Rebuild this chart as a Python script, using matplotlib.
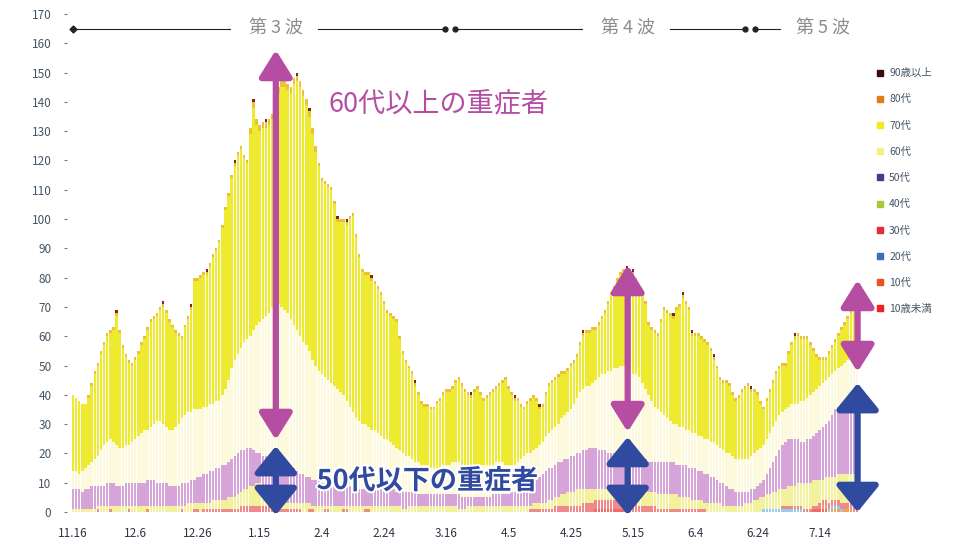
import numpy as np
import matplotlib.pyplot as plt
import matplotlib.patheffects as pe
from matplotlib.lines import Line2D

plt.rcParams['font.family'] = ['Noto Sans CJK JP', 'DejaVu Sans']

# daily number of severe patients by age group, 11.16 .. 7.27 (253 days)
s90 = [0,0,0,0,0,0,0,0,0,0, 0,0,0,0,1,0,0,0,0,0, 0,0,0,0,0,0,0,0,0,1, 0,0,0,0,0,0,0,0,1,0,
       0,0,0,1,0,0,0,0,0,0, 0,0,1,0,0,0,0,0,1,0, 0,0,1,0,0,0,0,1,0,0, 0,0,1,0,0,0,1,0,0,0,
       0,0,0,0,0,1,0,0,1,0, 0,0,0,0,0,0,1,0,0,0, 0,0,0,0,0,0,0,0,0,0, 1,0,0,0,0,0,0,0,0,0,
       0,0,0,0,0,0,0,0,1,0, 0,0,0,0,0,0,0,0,0,0, 0,0,1,0,0,0,0,0,0,0, 1,0,0,0,0,0,0,0,0,0,
       0,0,0,0,1,0,0,0,0,0, 0,0,0,0,0,0,0,0,1,0, 1,0,0,0,0,0,0,0,0,0, 0,0,0,1,0,0,1,0,0,1,
       0,0,0,0,0,0,1,0,0,0, 0,0,0,0,0,0,0,0,1,0, 0,0,0,0,0,0,0,0,0,0, 0,0,1,0,0,0,0,0,0,0,
       0,0,0,0,0,0,0,0,0,0, 0,0,0]
s80 = [0,0,0,0,0,1,1,1,1,1, 1,1,1,1,1,1,1,1,1,1, 1,1,1,1,1,1,1,1,1,1, 1,1,1,1,1,1,1,1,1,1,
       1,1,1,1,1,1,1,1,1,1, 1,1,1,1,1,1,1,2,2,2, 2,2,2,2,2,2,2,2,2,2, 2,2,2,2,2,2,2,2,2,1,
       1,1,1,1,1,1,1,1,1,1, 1,1,1,1,1,1,1,1,1,1, 1,1,1,1,1,1,1,1,1,1, 1,1,1,1,1,1,1,1,1,1,
       1,1,1,1,1,1,1,1,1,1, 1,1,1,1,1,1,1,1,1,1, 1,1,1,1,1,1,1,1,1,1, 1,1,1,1,1,1,1,1,1,1,
       1,1,1,1,1,1,1,1,1,1, 1,1,1,1,1,1,1,1,1,1, 1,1,1,1,1,1,1,1,1,1, 1,1,1,1,1,1,1,1,1,1,
       1,1,1,1,1,1,1,1,1,1, 1,1,1,1,1,1,1,1,1,1, 1,1,1,1,1,1,1,1,1,1, 1,1,1,1,1,1,1,1,1,1,
       1,1,1,1,1,1,1,1,1,1, 1,1,1]
s70 = [26,25,25,23,22,23,26,29,31,33, 34,36,36,38,44,39,34,30,28,26, 27,28,30,31,34,36,36,36,38,40,
       39,37,35,32,30,27,30,32,35,44, 44,45,45,45,47,50,51,54,57,61, 63,65,66,68,68,63,60,69,76,68,
       65,65,64,64,64,67,72,75,76,76, 77,82,85,85,84,82,80,77,73,70, 66,66,66,66,62,57,58,59,60,64,
       67,62,56,52,51,52,51,50,49,48, 46,43,43,43,43,38,34,32,30,29, 26,23,21,20,20,20,20,22,23,24,
       25,25,25,27,28,27,25,24,23,26, 26,24,22,23,24,25,25,26,27,29, 26,24,22,21,18,16,17,18,18,16,
       12,12,14,16,16,16,16,15,14,14, 15,14,14,16,18,18,18,18,17,18, 19,21,23,26,27,30,31,32,33,34,
       34,32,30,30,29,24,24,25,25,31, 36,36,36,36,39,41,44,43,41,33, 33,34,33,33,32,31,28,26,23,23,
       24,23,21,20,21,23,24,25,22,21, 19,15,12,13,14,15,16,16,16,15, 18,20,22,23,21,21,20,17,14,11,
       9,8,7,8,9,10,11,12,13,14, 15,16,16]
s60 = [6,6,5,7,7,8,8,9,10,12, 14,14,15,14,14,13,13,13,13,14, 15,16,17,18,17,18,19,21,21,20,
       19,19,19,20,21,22,23,24,23,24, 23,23,23,23,23,23,23,23,24,26, 28,31,33,34,35,37,37,38,41,44,
       45,47,48,50,52,54,54,53,53,52, 50,49,48,47,45,45,43,41,39,37, 37,36,35,35,34,33,32,31,29,27,
       25,24,23,22,22,21,20,20,19,18, 17,17,16,15,15,14,13,12,12,11, 10,11,10,10,10,9,9,9,9,10,
       10,10,11,11,11,11,11,11,11,10, 11,11,11,11,11,10,11,11,11,10, 10,9,9,10,10,11,11,11,11,11,
       11,11,12,12,13,13,13,15,15,16, 16,18,19,21,21,22,21,22,23,25, 26,26,28,28,29,29,30,31,30,29,
       28,29,28,26,24,23,21,19,18,17, 16,15,14,13,14,13,13,12,13,12, 12,12,12,12,12,12,12,12,12,11,
       11,12,11,11,11,11,11,11,11,12, 12,12,12,12,12,12,12,12,11,11, 11,12,12,12,14,14,14,15,15,15,
       15,15,15,15,14,13,13,13,13,14, 14,14,14]
s50 = [7,7,7,6,7,7,8,8,7,7, 7,8,8,8,7,7,7,8,8,8, 8,8,8,8,9,9,9,8,8,8,
       8,7,7,7,7,8,8,7,8,8, 9,9,10,10,11,10,11,11,12,12, 12,13,14,14,14,13,14,13,12,10,
       10,10,11,12,13,13,13,14,13,13, 13,12,11,10,10,9,9,9,9,9, 8,8,8,7,7,7,7,7,7,7,
       7,6,6,6,6,6,6,6,6,6, 6,6,6,6,5,5,6,6,5,5, 5,4,4,4,4,4,4,4,4,4,
       4,4,4,4,5,4,4,3,3,3, 3,3,3,3,3,4,4,4,4,4, 4,5,5,5,6,6,7,7,7,8,
       9,10,11,11,11,11,12,11,12,11, 12,12,12,12,13,13,14,14,14,13, 13,13,12,12,12,12,11,10,10,10,
       11,10,10,11,11,10,10,10,11,11, 11,11,11,11,10,11,11,11,10,11, 11,10,10,10,10,9,9,8,7,8,
       7,6,6,5,5,5,4,4,5,4, 5,5,6,7,9,10,12,13,15,16, 16,16,16,15,14,14,15,15,15,16,
       17,18,18,19,21,23,23,24,25,25, 26,27,27]
s40 = [1,1,1,1,1,1,1,1,1,2, 2,2,1,2,2,2,2,2,1,2, 2,2,2,2,1,2,2,2,2,2,
       2,2,2,2,2,1,2,3,3,2, 2,3,2,2,2,3,3,3,3,3, 4,4,4,5,5,6,6,7,7,8,
       8,7,6,4,4,3,3,2,2,2, 2,2,2,2,3,3,2,1,2,2, 2,1,1,2,2,2,2,1,1,2,
       2,2,2,2,1,1,2,2,2,2, 2,2,2,2,2,2,1,1,2,2, 2,2,2,2,2,2,2,2,2,2,
       2,2,2,2,1,1,1,2,2,2, 2,2,2,2,2,2,2,2,2,2, 2,2,2,2,2,2,2,1,2,2,
       2,2,2,3,3,3,3,4,4,5, 5,5,6,6,5,5,5,5,4,4, 4,4,4,4,4,4,5,5,5,6,
       5,5,6,5,5,5,5,5,5,5, 5,5,5,5,5,4,4,4,4,3, 3,3,3,2,3,3,3,3,3,2,
       2,2,2,2,2,2,3,3,3,4, 4,5,4,5,5,6,6,7,6,6, 7,7,7,8,8,9,9,9,9,9,
       8,7,8,9,8,8,9,10,10,10, 10,11,11]
s30 = [0,0,0,0,0,0,0,0,1,0, 0,0,1,0,0,0,0,0,1,0, 0,0,0,0,1,0,0,0,0,0,
       0,0,0,0,0,1,0,0,0,1, 1,0,1,1,1,1,1,1,1,1, 1,1,1,1,2,2,2,2,2,2,
       2,2,2,2,1,1,1,1,1,1, 1,1,1,1,0,0,1,1,0,0, 0,1,1,0,0,0,0,1,1,0,
       0,0,0,0,1,1,0,0,0,0, 0,0,0,0,0,0,0,0,0,0, 0,0,0,0,0,0,0,0,0,0,
       0,0,0,0,0,0,0,0,0,0, 0,0,0,0,0,0,0,0,0,0, 0,0,0,0,0,0,0,1,1,1,
       1,1,1,1,1,2,2,2,2,2, 2,2,2,2,3,3,3,3,3,3, 3,3,3,3,3,3,3,3,3,3,
       3,3,2,2,2,2,2,2,1,1, 1,1,1,1,1,1,1,1,1,1, 1,1,1,1,0,0,0,0,0,0,
       0,0,0,0,0,0,0,0,0,0, 0,0,0,0,0,0,0,0,1,1, 1,1,1,1,1,1,1,1,1,1,
       2,2,2,2,2,2,2,2,2,2, 2,2,2]
s20 = [0] * 222 + [1,1,1,1,1,1,1,1, 1,1,1,1,1,0,0,0,0,0, 0,0,0,1,1,1,1,1,0,0, 0,0,0]
s10 = [0] * 240 + [0,1,1,0,1,1,1,0,1,1, 1,0,0]
s0 = ([0] * 168 + [1,1, 1,1,1,1,1,1,1,1,1,0] + [0] * 58
      + [1,1, 1,1,1,0,0,0,0,0,0,0, 0,0,0])

ages = ['10歳未満', '10代', '20代', '30代', '40代', '50代', '60代', '70代', '80代', '90歳以上']
series = [s0, s10, s20, s30, s40, s50, s60, s70, s80, s90]
bar_colors = ['#f06a6a', '#f5a050', '#8fd0f0', '#f08a8a', '#f4f19c',
              '#d6a4d8', '#fcf9dc', '#eeea30', '#eec03a', '#7a2a14']
legend_colors = ['#f02020', '#f05020', '#3a6cc0', '#e52d3a', '#a8c83a',
                 '#4b3a8a', '#f5f080', '#f0eb1e', '#e07b1a', '#3d0a14']
tick_days = [0, 20, 40, 60, 80, 100, 120, 140, 160, 180, 200, 220, 240]
tick_labels = ['11.16', '12.6', '12.26', '1.15', '2.4', '2.24', '3.16',
               '4.5', '4.25', '5.15', '6.4', '6.24', '7.14']

fig = plt.figure(figsize=(9.55, 5.6), dpi=100)
ax = fig.add_axes([0.0699, 0.0857, 0.847, 0.8893])

# stacked daily bars
days = np.arange(len(s70))
bottom = np.zeros(len(days))
for vals, c in zip(series, bar_colors):
    v = np.array(vals, dtype=float)
    ax.bar(days, v, bottom=bottom, width=0.78, color=c, linewidth=0)
    bottom += v

ax.set_xlim(-2, 258)
ax.set_ylim(0, 170)
for s in ax.spines.values():
    s.set_visible(False)
ax.set_yticks(range(0, 171, 10))
ax.set_xticks(tick_days)
ax.set_xticklabels(tick_labels)
ax.tick_params(axis='y', length=2, width=0.8, color='#778', pad=9, labelsize=8.5, labelcolor='#445566')
ax.tick_params(axis='x', length=0, pad=11, labelsize=8.5, labelcolor='#333344')

# wave periods along the top
lc = '#222222'
yw = 165
for x0, x1 in [(0, 50.4), (78.7, 119.6), (122.7, 163.5), (191.8, 215.9), (219.1, 227.1)]:
    ax.plot([x0, x1], [yw, yw], color=lc, lw=0.8, clip_on=False)
ax.plot([0], [yw], marker='D', ms=3.5, color=lc, clip_on=False)
ax.plot([119.6, 122.7, 215.9, 219.1], [yw] * 4, 'o', ms=3.5, color=lc, clip_on=False)
for xc, t in [(65.2, '第 3 波'), (178.3, '第 4 波'), (241, '第 5 波')]:
    ax.text(xc, yw, t, ha='center', va='center', fontsize=13, color='#8c8c8c')

# double arrows
mag = '#b54ea3'
blue = '#2f4a9e'

def darrow(x, y0, y1, color, hw):
    ax.annotate('', xy=(x, y1), xytext=(x, y0),
                arrowprops=dict(arrowstyle='<|-|>,head_length=0.8,head_width=%s' % hw,
                                color=color, lw=4.5, shrinkA=0, shrinkB=0,
                                mutation_scale=20),
                annotation_clip=False)

darrow(65.2, 24.6, 157.7, mag, 0.5)
darrow(65.2, -1, 22.5, blue, 0.65)
darrow(178.3, 27.3, 84.3, mag, 0.5)
darrow(178.3, -1, 25.6, blue, 0.65)
darrow(252.2, 47.8, 79.2, mag, 0.5)
darrow(252.2, 0, 44, blue, 0.65)

ax.text(117.6, 139, '60代以上の重症者', ha='center', va='center', fontsize=19.5, color=mag)
ax.text(114, 10.6, '50代以下の重症者', ha='center', va='center', fontsize=19.5,
        fontweight='bold', color=blue,
        path_effects=[pe.withStroke(linewidth=3, foreground='white')])

# legend
handles = [Line2D([], [], marker='s', ls='', ms=5, color=c) for c in legend_colors[::-1]]
fig.legend(handles, ages[::-1], loc='upper left', bbox_to_anchor=(0.907, 0.895),
           frameon=False, fontsize=7.5, labelspacing=1.55, handlelength=0.8,
           handletextpad=0.5, labelcolor='#445566')

fig.savefig('out.png', dpi=100)
